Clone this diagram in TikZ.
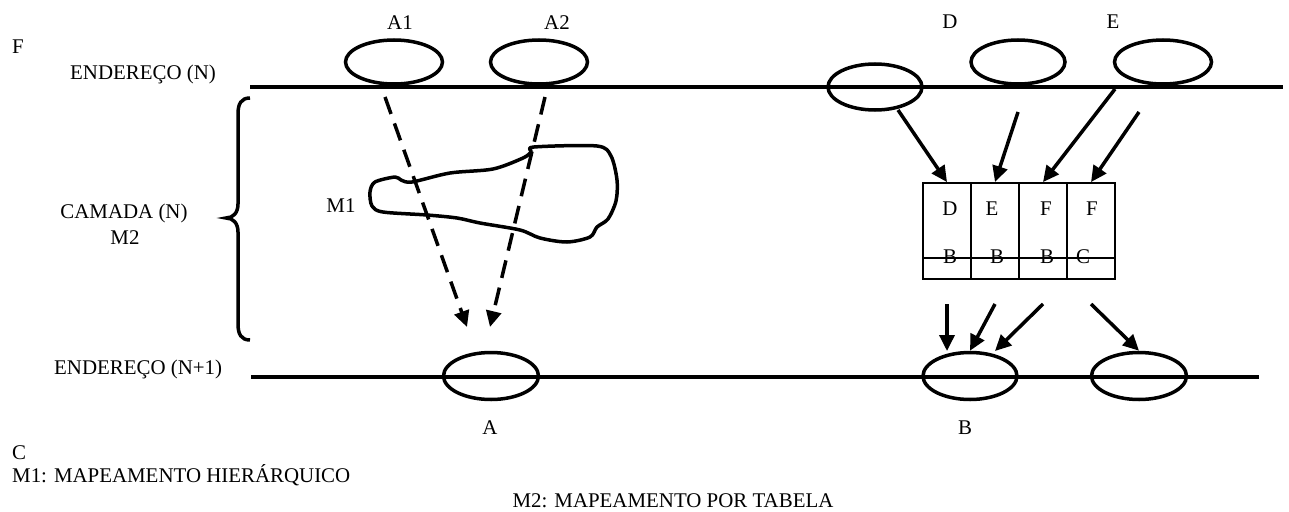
\documentclass[tikz,border=0pt]{standalone}
\usepackage{fontspec}
\setmainfont{Liberation Serif}
\usetikzlibrary{arrows.meta,shapes.geometric}
\begin{document}
\begin{tikzpicture}[x=1pt,y=-1pt,
  txt/.style={inner sep=0pt, font=\fontsize{20.9}{25}\selectfont},
  ell/.style={draw, ellipse, line width=3.5pt, inner sep=0pt},
  bus/.style={line width=3.5pt},
  arr/.style={line width=3.5pt, -{Triangle[length=16pt,width=15pt]}},
  darr/.style={arr, dash pattern=on 18pt off 10pt},
  cell/.style={draw, line width=1.8pt, minimum width=48pt, minimum height=96pt, inner sep=0pt},
]
\useasboundingbox (0,0) rectangle (1289,511);

% lines
\coordinate (t0) at (250,87); \coordinate (t1) at (1283,87);
\coordinate (u0) at (251,377); \coordinate (u1) at (1259,377);
\draw[bus] (t0) -- (t1);
\draw[bus] (u0) -- (u1);

% top ellipses
\node[ell, minimum width=97pt, minimum height=44pt] (A1e) at (394,62) {};
\node[ell, minimum width=97pt, minimum height=44pt] (A2e) at (539,62) {};
\node[ell, minimum width=94pt, minimum height=46pt] (Xe) at (875,87) {};
\node[ell, minimum width=94pt, minimum height=44pt] (De) at (1018,62) {};
\node[ell, minimum width=97pt, minimum height=44pt] (Ee) at (1163,62) {};

% bottom ellipses
\node[ell, minimum width=95pt, minimum height=47pt] (Ae) at (491,376) {};
\node[ell, minimum width=94pt, minimum height=47pt] (Be) at (970,376) {};
\node[ell, minimum width=95pt, minimum height=47pt] (Ce) at (1139,376) {};

% table
\node[cell] (c1) at (947,231) {};
\node[cell] (c2) at (995,231) {};
\node[cell] (c3) at (1043,231) {};
\node[cell] (c4) at (1091,231) {};
\draw[line width=1.8pt] ([yshift=22pt]c1.south west) -- ([yshift=22pt]c4.south east);
\node[txt, anchor=base] (tD) at (950,215) {D};
\node[txt, anchor=base] (tE) at (992,215) {E};
\node[txt, anchor=base] (tF1) at (1046,215) {F};
\node[txt, anchor=base] (tF2) at (1092,215) {F};
\node[txt, anchor=base] (tB1) at (950,263) {B};
\node[txt, anchor=base] (tB2) at (997,263) {B};
\node[txt, anchor=base] (tB3) at (1047,263) {B};
\node[txt, anchor=base] (tC) at (1083,263) {C};

% arrows into table
\coordinate (s1) at (898,110);
\coordinate (s2) at (1018,112);
\coordinate (s3) at (1115,89);
\coordinate (s4) at (1139,112);
\draw[arr] (s1) -- (c1.north);
\draw[arr] (s2) -- (c2.north);
\draw[arr] (s3) -- (c3.north);
\draw[arr] (s4) -- (c4.north);

% arrows out of table
\coordinate (b1) at (947,304); \coordinate (e1) at (947,351);
\coordinate (b2) at (995,304);
\coordinate (b3) at (1043,304); \coordinate (e3) at (995,351);
\coordinate (b4) at (1091,304);
\draw[arr] (b1) -- (e1);
\draw[arr] (b2) -- (Be.north);
\draw[arr] (b3) -- (e3);
\draw[arr] (b4) -- (Ce.north);

% dashed arrows
\coordinate (d1) at (385,97); \coordinate (f1) at (467,327);
\coordinate (d2) at (545,97); \coordinate (f2) at (490,327);
\draw[darr] (d1) -- (f1);
\draw[darr] (d2) -- (f2);

% blob
\draw[line width=3.5pt, line join=round] plot[smooth cycle, tension=0.5] coordinates {
 (370,192) (375,182) (395,177) (401,180) (412,182) (450,173) (493,169) (523,158)
 (531,152) (534,147) (597,146) (611,156) (617,180) (616,201) (608,219) (597,227)
 (590,237) (567,242) (540,238) (520,230) (480,223) (457,218) (427,215) (383,212) (372,206)};

% brace
\draw[line width=3.5pt] (250,98) .. controls (241,98) and (238,104) .. (238,114) -- (238,204)
  .. controls (238,213) and (233,218) .. (226,218)
  .. controls (233,218) and (238,223) .. (238,232) -- (238,324)
  .. controls (238,334) and (241,340) .. (250,340);

% labels
\node[txt, anchor=base west] (lF) at (12,53) {F};
\node[txt, anchor=base west] (lEN) at (70,79) {ENDEREÇO (N)};
\node[txt, anchor=base] (lA1) at (400,30) {A1};
\node[txt, anchor=base] (lA2) at (557,30) {A2};
\node[txt, anchor=base] (lD) at (950,29) {D};
\node[txt, anchor=base] (lE) at (1113,29) {E};
\node[txt, anchor=base] (lCam) at (124,218) {CAMADA (N)};
\node[txt, anchor=base] (lM2) at (125,244) {M2};
\node[txt, anchor=base] (lM1) at (341,212) {M1};
\node[txt, anchor=base west] (lEN1) at (54,374) {ENDEREÇO (N+1)};
\node[txt, anchor=base] (lA) at (490,434) {A};
\node[txt, anchor=base] (lB) at (965,434) {B};
\node[txt, anchor=base west] (lC) at (12,459) {C};
\node[txt, anchor=base west] (lM1t) at (12,482) {M1: MAPEAMENTO HIERÁRQUICO};
\node[txt, anchor=base] (lM2t) at (673,507) {M2: MAPEAMENTO POR TABELA};
\end{tikzpicture}
\end{document}
